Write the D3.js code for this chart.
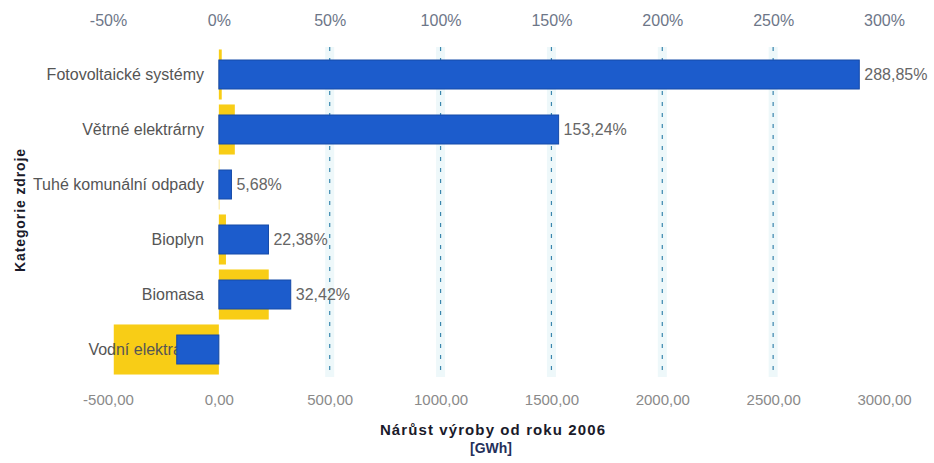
<!DOCTYPE html>
<html>
<head>
<meta charset="utf-8">
<script src="https://cdn.jsdelivr.net/npm/d3@7"></script>
<style>
  html, body { margin: 0; padding: 0; background: #fff; }
  svg { display: block; }
  text { font-family: "Liberation Sans", Arial, sans-serif; }
</style>
</head>
<body>
<svg id="chart" width="934" height="463"></svg>
<script>
// Renewable sources, growth of production since 2006
const categories = [
  "Fotovoltaické systémy",
  "Větrné elektrárny",
  "Tuhé komunální odpady",
  "Bioplyn",
  "Biomasa",
  "Vodní elektrárny"
];
// relative growth [%] (blue, top axis)
const growthPct = [288.85, 153.24, 5.68, 22.38, 32.42, -19.0];
// absolute growth [GWh] (yellow, bottom axis)
const growthGWh = [13, 72, 2, 32, 225, -474];

const pctTicks = [-50, 0, 50, 100, 150, 200, 250, 300];
const gwhTicks = [-500, 0, 500, 1000, 1500, 2000, 2500, 3000];
const gridPct = [50, 100, 150, 200, 250];

const cz = d3.formatLocale({ decimal: ",", thousands: "", grouping: [3], currency: ["", " Kč"], minus: "-" });
const fPct0 = cz.format(".0f");
const fPct2 = cz.format(".2f");
const fGwh = cz.format(".2f");

const svg = d3.select("#chart");
const plotTop = 47, plotBottom = 377;

const xPct = d3.scaleLinear().domain([-50, 300]).range([108, 884]);
const xGwh = d3.scaleLinear().domain([-500, 3000]).range([108, 884]);
const y = d3.scaleBand().domain(categories).range([plotTop, plotBottom]).paddingInner(0.09).paddingOuter(0.045);

// grid lines: faint cyan band with a dashed line
const grid = svg.append("g");
grid.selectAll("line.band").data(gridPct).join("line")
  .attr("class", "band")
  .attr("x1", d => xPct(d)).attr("x2", d => xPct(d))
  .attr("y1", plotTop).attr("y2", plotBottom)
  .attr("stroke", "#eef8fa").attr("stroke-width", 9);
grid.selectAll("line.dash").data(gridPct).join("line")
  .attr("class", "dash")
  .attr("x1", d => xPct(d)).attr("x2", d => xPct(d))
  .attr("y1", plotTop).attr("y2", plotBottom)
  .attr("stroke", "#3a86ad").attr("stroke-width", 1.2)
  .attr("stroke-dasharray", "4,7");

// absolute growth bars (yellow, wide)
svg.append("g").selectAll("rect").data(categories).join("rect")
  .attr("x", (d, i) => Math.min(xGwh(0), xGwh(growthGWh[i])))
  .attr("width", (d, i) => Math.abs(xGwh(growthGWh[i]) - xGwh(0)))
  .attr("y", d => y(d))
  .attr("height", y.bandwidth())
  .attr("fill", "#f8cd16");

// category labels
svg.append("g").selectAll("text").data(categories).join("text")
  .attr("x", 204)
  .attr("y", d => y(d) + y.bandwidth() / 2)
  .attr("dy", "0.35em")
  .attr("text-anchor", "end")
  .attr("font-size", 16)
  .attr("fill", "#555")
  .text(d => d);

// relative growth bars (blue, narrow)
const blueH = 29;
svg.append("g").selectAll("rect").data(categories).join("rect")
  .attr("x", (d, i) => Math.min(xPct(0), xPct(growthPct[i])))
  .attr("width", (d, i) => Math.abs(xPct(growthPct[i]) - xPct(0)))
  .attr("y", d => y(d) + (y.bandwidth() - blueH) / 2)
  .attr("height", blueH)
  .attr("fill", "#1c5ccc")
  .attr("stroke", "#154aa8")
  .attr("stroke-width", 1);

// value labels for positive growth
svg.append("g").selectAll("text").data(categories.filter((d, i) => growthPct[i] > 0)).join("text")
  .attr("x", d => xPct(growthPct[categories.indexOf(d)]) + 5)
  .attr("y", d => y(d) + y.bandwidth() / 2)
  .attr("dy", "0.35em")
  .attr("font-size", 16)
  .attr("fill", "#666")
  .text(d => fPct2(growthPct[categories.indexOf(d)]) + "%");

// top axis (percent)
const axTop = svg.append("g").attr("transform", "translate(0,26)")
  .call(d3.axisTop(xPct).tickValues(pctTicks).tickSize(0).tickPadding(0).tickFormat(d => fPct0(d) + "%"));
axTop.select(".domain").remove();
axTop.selectAll("text").attr("font-size", 16).attr("fill", "#6d7688")
  .attr("font-family", "Liberation Sans, Arial, sans-serif").attr("dy", 0);

// bottom axis (GWh)
const axBot = svg.append("g").attr("transform", "translate(0,405)")
  .call(d3.axisBottom(xGwh).tickValues(gwhTicks).tickSize(0).tickPadding(0).tickFormat(d => fGwh(d)));
axBot.select(".domain").remove();
axBot.selectAll("text").attr("font-size", 15).attr("fill", "#8a8a8a")
  .attr("font-family", "Liberation Sans, Arial, sans-serif").attr("dy", 0);

// axis titles
svg.append("text")
  .attr("x", 493).attr("y", 435)
  .attr("text-anchor", "middle")
  .attr("font-family", "DejaVu Sans, sans-serif")
  .attr("font-weight", "bold").attr("font-size", 15)
  .attr("letter-spacing", 1.1)
  .attr("fill", "#1a1a2a")
  .text("Nárůst výroby od roku 2006");
svg.append("text")
  .attr("x", 491).attr("y", 453)
  .attr("text-anchor", "middle")
  .attr("font-family", "DejaVu Sans, sans-serif")
  .attr("font-weight", "bold").attr("font-size", 14)
  .attr("fill", "#25305a")
  .text("[GWh]");
svg.append("text")
  .attr("transform", "translate(25,210) rotate(-90)")
  .attr("text-anchor", "middle")
  .attr("font-family", "DejaVu Sans, sans-serif")
  .attr("font-weight", "bold").attr("font-size", 14)
  .attr("letter-spacing", 0.9)
  .attr("fill", "#1a1a2a")
  .text("Kategorie zdroje");
</script>
</body>
</html>
